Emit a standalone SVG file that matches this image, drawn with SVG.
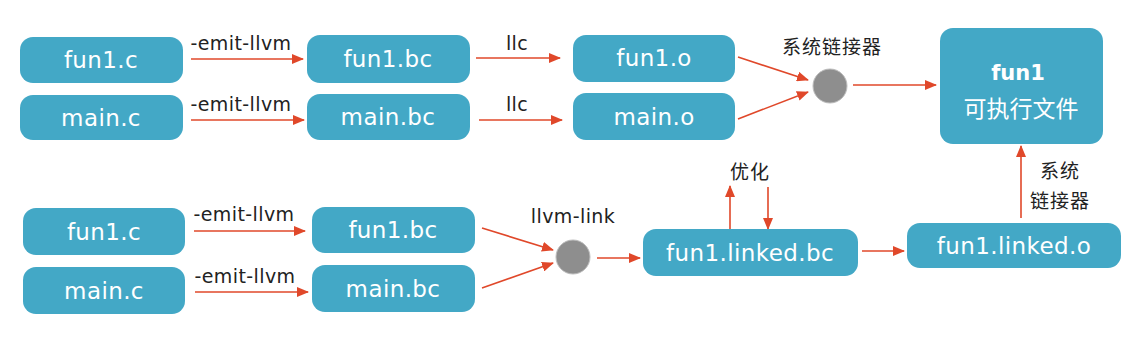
<svg xmlns="http://www.w3.org/2000/svg" width="1142" height="338" viewBox="0 0 1142 338">
<style>
.box{fill:#43A8C6;}
.bt{font-family:"DejaVu Sans","Noto Sans CJK SC",sans-serif;font-size:23px;fill:#fff;text-anchor:middle;letter-spacing:0.4px;}
.lb{font-family:"DejaVu Sans","Noto Sans CJK SC",sans-serif;font-size:19px;fill:#222;text-anchor:middle;letter-spacing:0.4px;}
.cj{font-family:"Noto Sans CJK SC",sans-serif;font-size:19px;fill:#222;text-anchor:middle;letter-spacing:1px;}
.ar{stroke:#E0482A;stroke-width:1.6;fill:none;marker-end:url(#ah);}
.dot{fill:#8E8E8E;stroke:#BDBDBD;stroke-width:1;}
</style>
<defs>
<marker id="ah" markerWidth="12" markerHeight="10" refX="11" refY="5" orient="auto" markerUnits="userSpaceOnUse">
<path d="M0,0 L12,5 L0,10 Z" fill="#E0482A"/>
</marker>
</defs>
<rect width="1142" height="338" fill="#fff"/>
<g id="connectors">
<line class="ar" x1="191" y1="59" x2="303" y2="59"/>
<line class="ar" x1="191" y1="120" x2="304" y2="120"/>
<line class="ar" x1="476" y1="58" x2="560" y2="58"/>
<line class="ar" x1="479" y1="120" x2="562" y2="120"/>
<line class="ar" x1="738" y1="57" x2="808" y2="80"/>
<line class="ar" x1="738" y1="119" x2="808" y2="92"/>
<line class="ar" x1="853" y1="85" x2="936" y2="85"/>
<line class="ar" x1="194" y1="231" x2="305" y2="231"/>
<line class="ar" x1="195" y1="292" x2="308" y2="292"/>
<line class="ar" x1="482" y1="228" x2="553" y2="250"/>
<line class="ar" x1="482" y1="288" x2="553" y2="263"/>
<line class="ar" x1="597" y1="258" x2="640" y2="258"/>
<line class="ar" x1="730" y1="229" x2="730" y2="186"/>
<line class="ar" x1="768" y1="187" x2="768" y2="229"/>
<line class="ar" x1="862" y1="251" x2="904" y2="251"/>
<line class="ar" x1="1021" y1="218" x2="1021" y2="146"/>
<text class="lb" x="241" y="50">-emit-llvm</text>
<text class="lb" x="241" y="111">-emit-llvm</text>
<text class="lb" x="517" y="50">llc</text>
<text class="lb" x="517" y="111">llc</text>
<text class="cj" x="832" y="54">系统链接器</text>
<text class="lb" x="244" y="221">-emit-llvm</text>
<text class="lb" x="245" y="283">-emit-llvm</text>
<text class="lb" x="573" y="223">llvm-link</text>
<text class="cj" x="750" y="179">优化</text>
<text class="cj" x="1060" y="178">系统</text>
<text class="cj" x="1060" y="208">链接器</text>
</g>
<g id="n-fun1c"><rect class="box" x="20" y="37" width="163" height="46" rx="13"/><text class="bt" x="101" y="68">fun1.c</text></g>
<g id="n-mainc"><rect class="box" x="20" y="95" width="163" height="45" rx="13"/><text class="bt" x="101" y="126">main.c</text></g>
<g id="n-fun1bc"><rect class="box" x="307" y="35" width="163" height="48" rx="13"/><text class="bt" x="388" y="67">fun1.bc</text></g>
<g id="n-mainbc"><rect class="box" x="307" y="94" width="163" height="46" rx="13"/><text class="bt" x="388" y="125">main.bc</text></g>
<g id="n-fun1o"><rect class="box" x="573" y="35" width="162" height="47" rx="13"/><text class="bt" x="654" y="66">fun1.o</text></g>
<g id="n-maino"><rect class="box" x="573" y="93" width="162" height="47" rx="13"/><text class="bt" x="654" y="125">main.o</text></g>
<g id="n-ld1"><circle class="dot" cx="830" cy="86" r="17"/></g>
<g id="n-exe"><rect class="box" x="940" y="28" width="163" height="116" rx="13"/>
<text x="1018" y="80" style="font-family:'DejaVu Sans',sans-serif;font-size:21px;font-weight:bold;fill:#fff;text-anchor:middle">fun1</text>
<text x="1021" y="117" style="font-family:'Noto Sans CJK SC',sans-serif;font-size:23px;fill:#fff;text-anchor:middle">可执行文件</text></g>
<g id="n-fun1c-2"><rect class="box" x="23" y="208" width="162" height="47" rx="13"/><text class="bt" x="104" y="240">fun1.c</text></g>
<g id="n-mainc-2"><rect class="box" x="23" y="267" width="162" height="47" rx="13"/><text class="bt" x="104" y="299">main.c</text></g>
<g id="n-fun1bc-2"><rect class="box" x="312" y="207" width="163" height="46" rx="13"/><text class="bt" x="393" y="238">fun1.bc</text></g>
<g id="n-mainbc-2"><rect class="box" x="312" y="265" width="163" height="47" rx="13"/><text class="bt" x="393" y="297">main.bc</text></g>
<g id="n-link"><circle class="dot" cx="573" cy="257" r="17"/></g>
<g id="n-linkedbc"><rect class="box" x="643" y="229" width="215" height="47" rx="13"/><text class="bt" x="750" y="261">fun1.linked.bc</text></g>
<g id="n-linkedo"><rect class="box" x="907" y="223" width="214" height="45" rx="13"/><text class="bt" x="1014" y="254">fun1.linked.o</text></g>
</svg>
